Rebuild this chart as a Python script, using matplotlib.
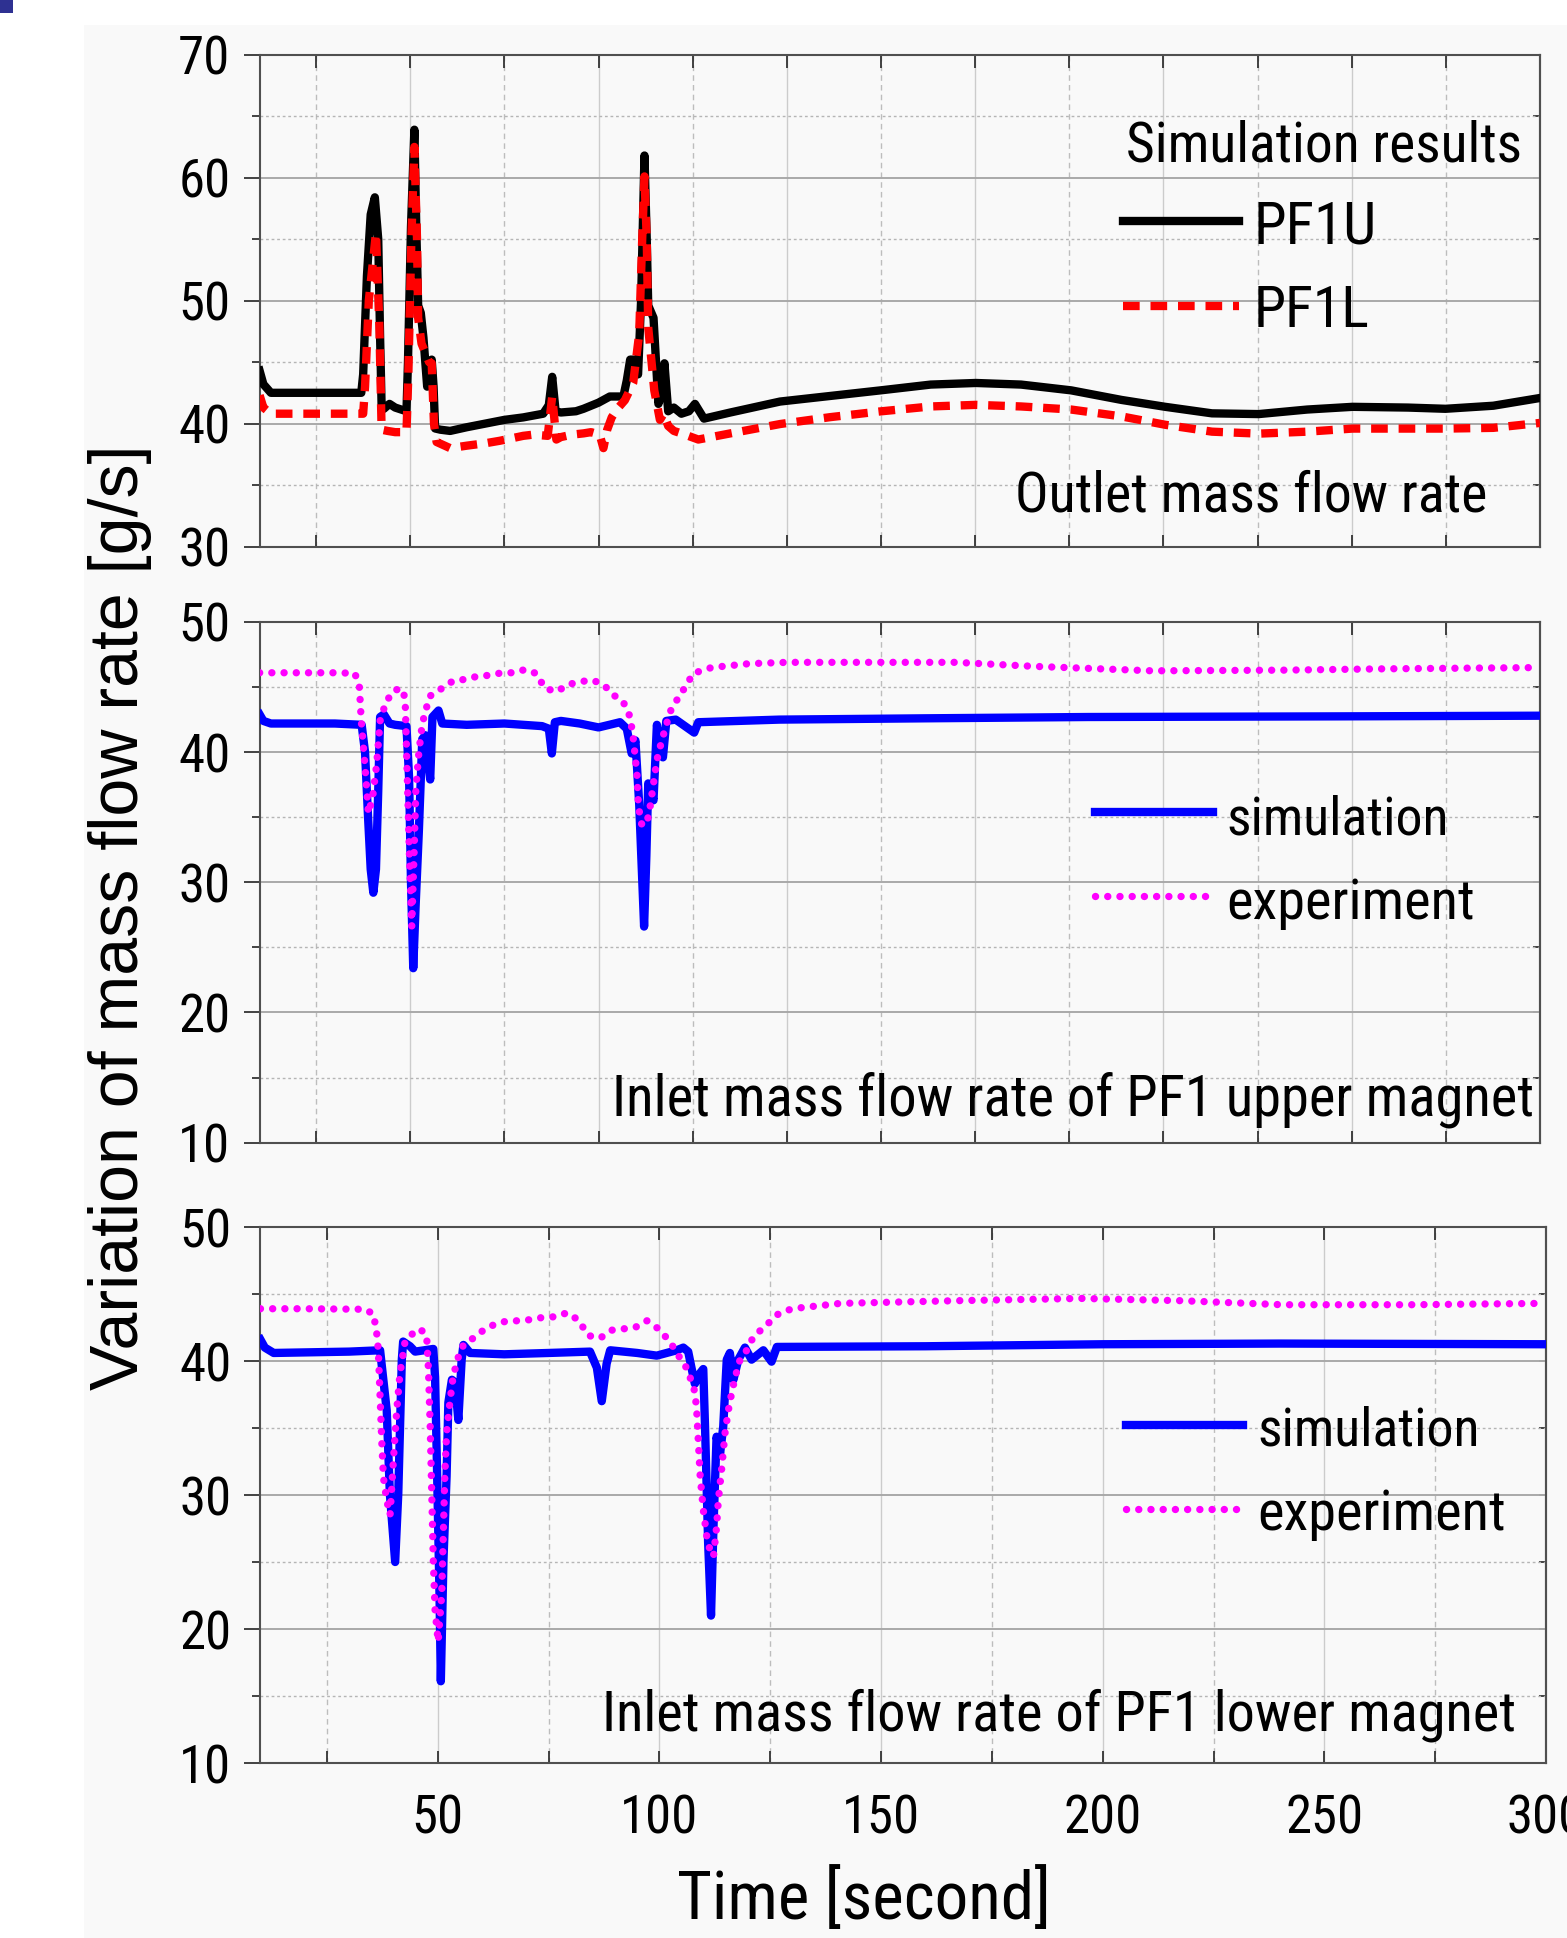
import matplotlib
matplotlib.use('Agg')
import matplotlib.pyplot as plt
from matplotlib import font_manager as fm
from matplotlib.ticker import MultipleLocator, NullFormatter
from matplotlib.patches import Rectangle
from matplotlib.lines import Line2D

# ---------------- data (time [s], mass flow rate [g/s]) ----------------
# Top panel: outlet mass flow rate, simulation results
pf1u_t = [10, 11, 13, 20, 30, 37, 37.5, 38.5, 39.5, 40.6, 41.5, 42, 42.4, 43, 44.5, 46, 49,
          49.4, 50.2, 51.1, 51.6, 52.1, 52.8, 53.5, 54.5, 55.2, 55.7, 56.2, 56.6, 58, 60.6,
          65, 70, 75, 80, 85.3, 86.8, 87.7, 88.6, 90, 94, 96, 100, 103, 106.6, 107.5, 108.4,
          109.3, 110.5, 111.3, 112.2, 112.8, 113.2, 114.6, 115.9, 116.8, 117.5, 118.5, 120,
          122, 124, 125.6, 128, 135, 148.2, 174.9, 188.2, 200.2, 212.2, 225.5, 238.9, 250.5,
          262.9, 275.3, 288.2, 300.2, 314.9, 324.9, 337.6, 350]
pf1u_v = [44.3, 43.2, 42.5, 42.5, 42.5, 42.5, 44, 52, 57, 58.4, 55, 47, 41.4, 41.2, 41.6, 41.3, 41.0,
          45, 56, 63.9, 56, 49.6, 49, 47, 43, 44, 45.2, 43, 39.6, 39.5, 39.4,
          39.7, 40.0, 40.3, 40.5, 40.8, 41.5, 43.8, 41.0, 40.9, 41.0, 41.2, 41.7, 42.2, 42.2, 43.5, 45.2,
          45.2, 44, 50, 61.8, 55, 49.6, 48.6, 41.6, 42.5, 44.9, 41.0, 41.3,
          40.8, 41.0, 41.6, 40.4, 40.9, 41.79, 42.7, 43.17, 43.3, 43.17, 42.7, 41.92, 41.36,
          40.83, 40.77, 41.14, 41.36, 41.3, 41.2, 41.45, 42.08]

pf1l_t = [10, 11, 13, 30, 37.5, 38, 39, 40.9, 41.8, 42.4, 44, 46, 49, 49.5, 50.3, 51.1, 51.8,
          52.1, 53, 55, 55.7, 56.3, 57, 60.6, 65, 70, 73.8, 80, 82.7, 86.5, 87.7, 88.8, 90, 93,
          96, 98, 100.3, 101.3, 102.3, 103.5, 105, 107, 109.2, 110.8, 111.6, 112.2, 112.8, 113.2,
          114.8, 116.3, 117.3, 118.5, 120, 122, 126.5, 135, 148.2, 161.5, 174.9, 188.2, 200.2,
          212.2, 225.5, 238.9, 250.5, 262.9, 275.3, 288.2, 300.2, 314.9, 324.9, 337.6, 350]
pf1l_v = [42.3, 41.3, 40.8, 40.8, 40.8, 43, 50, 55.5, 48, 39.5, 39.4, 39.3, 39.3, 44, 55, 62.5, 55,
          48.6, 46.5, 45, 44.9, 40, 38.5, 38.0, 38.2, 38.4, 38.6, 39.0, 39.1, 39.0, 42.2, 38.7, 38.9, 39.1,
          39.2, 39.3, 39.1, 38.0, 39.5, 40.5, 41.2, 41.9, 43.3, 47.3, 55, 60.1, 55, 47.8,
          42.7, 40.3, 40.8, 39.8, 39.4, 39.2, 38.7, 39.2, 39.96, 40.52, 40.99, 41.39, 41.52,
          41.39, 41.14, 40.58, 39.9, 39.34, 39.18, 39.34, 39.59, 39.59, 39.59, 39.65, 40.05]

# Middle panel: inlet mass flow rate of PF1 upper magnet
up_sim_t = [10, 11, 13, 30, 37.1, 38, 38.8, 39.5, 40.2, 40.9, 41.5, 42, 43, 44.5, 46, 49, 49.7,
            50.2, 50.8, 51.4, 52.3, 53.2, 54, 54.7, 55.3, 55.9, 57.5, 58.5, 65, 75, 85, 86.8,
            87.6, 88.4, 90, 95, 100, 105.7, 107.5, 108.8, 109.8, 110.8, 112.1, 112.7, 113.2,
            114.6, 115.5, 116.3, 117.1, 118, 120.5, 125.4, 126.5, 148, 187, 230, 297, 350]
up_sim_v = [42.9, 42.4, 42.2, 42.2, 42.1, 40, 35, 31, 29.2, 31, 37, 42.7, 42.9, 42.2, 42.1, 42.0, 38,
            30, 23.4, 28, 34.0, 41.0, 41.3, 39.5, 37.9, 42.7, 43.2, 42.2, 42.1, 42.2, 42.0, 41.8,
            39.9, 42.3, 42.4, 42.2, 41.9, 42.3, 41.8, 39.9, 40.9, 36, 26.6, 32, 37.6,
            36.3, 42.1, 40.5, 39.6, 42.4, 42.5, 41.5, 42.3, 42.5, 42.6, 42.7, 42.75, 42.8]

up_exp_t = [10, 20, 30, 35.3, 36.5, 37, 38, 38.9, 40, 41.1, 42, 43.6, 46, 48.2, 48.7, 49.2, 49.8,
            50.4, 51, 51.5, 52.3, 53.2, 54.4, 55.2, 58.4, 61.5, 65, 68, 71, 74.3, 77.5, 80.5,
            83.4, 85.8, 88.9, 92, 95, 98.2, 101.3, 103.9, 106.5, 108.4, 109.3, 110.2, 110.6,
            111.5, 112.8, 113.7, 114.6, 115.5, 116.8, 118.1, 119, 120.8, 123, 125.2, 130, 140,
            150, 175, 195, 215, 247, 282, 308, 350]
up_exp_v = [46.1, 46.1, 46.1, 46.06, 45.0, 42.4, 38.9, 35.3, 36.5, 39.1, 42.4, 43.9, 44.8, 44.8, 43.5,
            38.3, 32, 26.6, 32.0, 37.2, 40.0, 42.2, 43.5, 44.3, 44.9, 45.5, 45.6, 45.85, 45.9, 46.1,
            46.1, 46.35, 46.05, 44.9, 44.65, 45.2, 45.4, 45.55, 45.2, 44.4, 43.9, 42.7, 40.9, 38.3,
            35.8, 34.4, 34.5, 35.8, 37.6, 39.4, 40.9, 42.2, 43.1, 44.0, 45.0, 46.06, 46.5, 46.8,
            46.9, 46.9, 46.9, 46.6, 46.25, 46.3, 46.4, 46.5]

# Bottom panel: inlet mass flow rate of PF1 lower magnet
lo_sim_t = [10, 11, 13, 30, 37, 38.5, 39.2, 40.4, 41.1, 41.9, 42.2, 43.75, 44.9, 49.0, 49.4, 49.8,
            50.4, 50.7, 51.3, 52.0, 52.4, 53.2, 53.9, 54.65, 55.4, 55.8, 57.3, 65, 75, 84.35, 85.9,
            87.0, 88.1, 88.9, 95, 99.4, 103.9, 105.4, 106.5, 107.3, 108.0, 109.2, 109.9, 110.3,
            111.0, 111.65, 112.2, 112.9, 113.7, 114.4, 115.2, 115.9, 116.7, 117.8, 119.3, 120.8,
            123.45, 125.3, 126.5, 160, 200, 240, 300]
lo_sim_v = [41.6, 41.0, 40.6, 40.7, 40.8, 36.3, 30.1, 25.0, 30.1, 40.1, 41.45, 41.1, 40.7, 40.9, 38.8,
            32.6, 22.6, 16.1, 25.2, 31.4, 36.9, 38.6, 38.4, 35.6, 40.1, 41.2, 40.6, 40.5, 40.6, 40.7,
            39.5, 37.0, 39.8, 40.8, 40.6, 40.4, 40.8, 41.0, 40.7, 39.4, 38.3, 39.1, 39.4, 35.1,
            26.4, 21.0, 27.6, 34.35, 33.1, 35.1, 40.1, 40.6, 38.6, 40.1, 41.0, 40.1,
            40.8, 39.95, 41.05, 41.1, 41.25, 41.3, 41.25]

lo_exp_t = [10, 20, 33.6, 35.5, 36.2, 36.6, 37.0, 37.4, 37.75, 38.5, 39.25, 40.0, 40.75, 41.5, 42.6,
            43.75, 46.0, 47.5, 47.9, 48.3, 48.65, 49.0, 49.4, 50.1, 50.9, 51.3, 51.6, 52.0, 52.8,
            53.5, 54.65, 55.8, 58.0, 60.7, 63.3, 65.9, 68.6, 71.2, 73.8, 76.5, 79.2, 81.7, 84.0,
            86.6, 89.25, 91.9, 94.5, 97.2, 99.8, 102.4, 104.3, 105.8, 106.9, 108.0, 108.4, 108.8,
            109.2, 109.9, 110.7, 111.4, 112.2, 112.9, 113.3, 114.1, 114.8, 115.55, 116.3, 117.1,
            118.2, 119.7, 121.2, 124.2, 126.8, 129.9, 140.8, 166.9, 195.1, 217.8, 240.5, 270, 299.3]
lo_exp_v = [43.9, 43.9, 43.86, 43.5, 42.2, 40.8, 37.3, 33.8, 31.3, 29.6, 28.5, 32.6, 36.3, 39.1, 41.4,
            41.9, 42.4, 41.9, 39.4, 35.1, 30.1, 25.1, 21.4, 19.05, 22.6, 27.6, 31.4, 34.6, 37.1,
            38.9, 40.3, 41.2, 41.7, 42.4, 42.8, 43.0, 43.0, 43.1, 43.26, 43.3, 43.6, 43.06, 41.9,
            41.7, 42.3, 42.4, 42.5, 43.0, 42.4, 41.44, 40.4, 39.7, 38.8, 37.7, 36.4, 33.9,
            31.4, 28.9, 26.9, 25.9, 25.4, 27.6, 29.6, 32.1, 34.6, 36.3, 37.6, 38.8,
            40.1, 40.8, 41.8, 42.7, 43.5, 43.9, 44.3, 44.5, 44.67, 44.5, 44.2, 44.2, 44.3]

for a, b in [(pf1u_t, pf1u_v), (pf1l_t, pf1l_v), (up_sim_t, up_sim_v), (up_exp_t, up_exp_v),
             (lo_sim_t, lo_sim_v), (lo_exp_t, lo_exp_v)]:
    assert len(a) == len(b), (len(a), len(b))

x_ticks = [50, 100, 150, 200, 250, 300]

# ---------------- fonts ----------------
def pick(cands):
    for c in cands:
        try:
            fm.findfont(fm.FontProperties(family=c), fallback_to_default=False)
            return c
        except Exception:
            pass
    return 'DejaVu Sans'

NARROW = pick(['Liberation Sans Narrow', 'Arial Narrow', 'Roboto Condensed', 'DejaVu Sans Condensed', 'Liberation Sans'])
REG = pick(['Liberation Sans', 'Arial', 'DejaVu Sans'])

# ---------------- figure ----------------
W, H = 1567, 1938
fig = plt.figure(figsize=(W / 100, H / 100), dpi=100)
fig.patch.set_facecolor('white')
renderer = fig.canvas.get_renderer()


def fx(x):
    return x / W


def fy(y):
    return 1 - y / H


fig.add_artist(Rectangle((fx(84), 0), 1 - fx(84), fy(25), transform=fig.transFigure,
                         facecolor='#f9f9f9', edgecolor='none', zorder=-10))
fig.add_artist(Rectangle((0, fy(13)), fx(13), 13 / H, transform=fig.transFigure,
                         facecolor='#2e3192', edgecolor='none', zorder=-5))


def make_ax(x0, x1, y0, y1):
    return fig.add_axes([fx(x0), fy(y1), fx(x1) - fx(x0), (y1 - y0) / H])


ax1 = make_ax(259.6, 1540, 54.7, 546.5)
ax2 = make_ax(259.6, 1540, 622, 1142.6)
ax3 = make_ax(260.4, 1546, 1227, 1763)

SP = '#505050'
TICK_FS = 38


def style(ax, ylim, xlim, show_x):
    ax.set_facecolor('none')
    ax.set_xlim(*xlim)
    ax.set_ylim(*ylim)
    ax.xaxis.set_major_locator(MultipleLocator(50))
    ax.xaxis.set_minor_locator(MultipleLocator(25))
    ax.yaxis.set_major_locator(MultipleLocator(10))
    ax.yaxis.set_minor_locator(MultipleLocator(5))
    ax.set_axisbelow(True)
    ax.grid(which='major', axis='y', color='#a9a9a9', lw=1.4, ls='-')
    ax.grid(which='minor', axis='y', color='#b5b5b5', lw=1.0, ls=(0, (2, 2)))
    ax.grid(which='major', axis='x', color='#cccccc', lw=1.0, ls='-')
    ax.grid(which='minor', axis='x', color='#bdbdbd', lw=1.0, ls=(0, (4, 3)))
    for s in ax.spines.values():
        s.set_color(SP)
        s.set_linewidth(1.5)
    ax.tick_params(axis='x', which='both', direction='in', top=True, bottom=True,
                   length=9, width=1.3, color='#333333', pad=22)
    ax.tick_params(axis='y', which='major', direction='out', left=True, right=False,
                   length=11.5, width=1.3, color='#333333', pad=9.5)
    ax.tick_params(axis='y', which='minor', direction='out', left=True, right=False,
                   length=5.5, width=1.3, color='#333333')
    yt = list(range(int(ylim[0]), int(ylim[1]) + 1, 10))
    ax.set_yticks(yt)
    ax.set_yticklabels([str(v) for v in yt], family=NARROW, fontsize=TICK_FS)
    if show_x:
        ax.set_xticks(x_ticks)
        ax.set_xticklabels([str(v) for v in x_ticks], family=NARROW, fontsize=TICK_FS)
    else:
        ax.xaxis.set_major_formatter(NullFormatter())
    sec = ax.secondary_yaxis('right')
    sec.yaxis.set_major_locator(MultipleLocator(10))
    sec.yaxis.set_minor_locator(MultipleLocator(5))
    sec.tick_params(which='both', direction='in', length=5, width=1.3, color='#333333',
                    labelright=False)
    sec.spines['right'].set_color(SP)
    sec.spines['right'].set_linewidth(1.5)


style(ax1, (30, 70), (10, 350), False)
style(ax2, (10, 50), (10, 350), False)
style(ax3, (10, 50), (10, 300), True)

LW = 6.0
DASH = (0, (2.0, 1.3))
DOT_LW = 5.3
DOT = (0, (0.01, 1.65))
# top panel
ax1.plot(pf1u_t, pf1u_v, color='black', lw=LW, solid_joinstyle='round', zorder=3)
ax1.plot(pf1l_t, pf1l_v, color='#ff0000', lw=LW, ls=DASH, dash_capstyle='butt', zorder=4)
# middle panel
ax2.plot(up_sim_t, up_sim_v, color='#0000ff', lw=LW, solid_joinstyle='round', zorder=3)
ax2.plot(up_exp_t, up_exp_v, color='#ff00ff', lw=DOT_LW, ls=DOT, dash_capstyle='round', zorder=4)
# bottom panel
ax3.plot(lo_sim_t, lo_sim_v, color='#0000ff', lw=LW, solid_joinstyle='round', zorder=3)
ax3.plot(lo_exp_t, lo_exp_v, color='#ff00ff', lw=DOT_LW, ls=DOT, dash_capstyle='round', zorder=4)


# ---------------- legend samples and annotations ----------------
def seg(x0, x1, y, **kw):
    fig.add_artist(Line2D([fx(x0), fx(x1)], [fy(y), fy(y)], transform=fig.transFigure, **kw))


def fit(t, target):
    """scale the font so the text spans `target` pixels"""
    w = t.get_window_extent(renderer).width
    t.set_fontsize(t.get_fontsize() * target / w)


def txt(x0, x1, y, s):
    t = fig.text(fx(x0), fy(y), s, fontsize=40, family=NARROW, ha='left', va='baseline')
    fit(t, x1 - x0)
    return t


txt(1126, 1522, 161, 'Simulation results')
seg(1123, 1239, 221, color='black', lw=LW)
txt(1254, 1377, 243, 'PF1U')
seg(1123, 1239, 306, color='#ff0000', lw=LW, ls=DASH)
txt(1254, 1370, 327, 'PF1L')
txt(1015, 1487, 511, 'Outlet mass flow rate')

seg(1095, 1213, 811.5, color='#0000ff', lw=LW)
txt(1226, 1449, 834.5, 'simulation')
seg(1095, 1207, 896, color='#ff00ff', lw=DOT_LW, ls=DOT, dash_capstyle='round')
txt(1226, 1474, 919, 'experiment')
txt(612, 1533, 1116, 'Inlet mass flow rate of PF1 upper magnet')

seg(1126, 1243, 1425, color='#0000ff', lw=LW)
txt(1257, 1480, 1446, 'simulation')
seg(1126, 1240, 1509, color='#ff00ff', lw=DOT_LW, ls=DOT, dash_capstyle='round')
txt(1257, 1505, 1530, 'experiment')
txt(602, 1515, 1731, 'Inlet mass flow rate of PF1 lower magnet')

yl = fig.text(fx(120), fy(917.5), 'Variation of mass flow rate [g/s]', rotation=90,
              ha='center', va='center', fontsize=48, family=REG)
w = yl.get_window_extent(renderer).height
yl.set_fontsize(48 * 945 / w)

xl = fig.text(fx(864), fy(1901), 'Time [second]', ha='center', va='center', fontsize=50, family=NARROW)
fit(xl, 374)

fig.savefig('out.png', dpi=100)
